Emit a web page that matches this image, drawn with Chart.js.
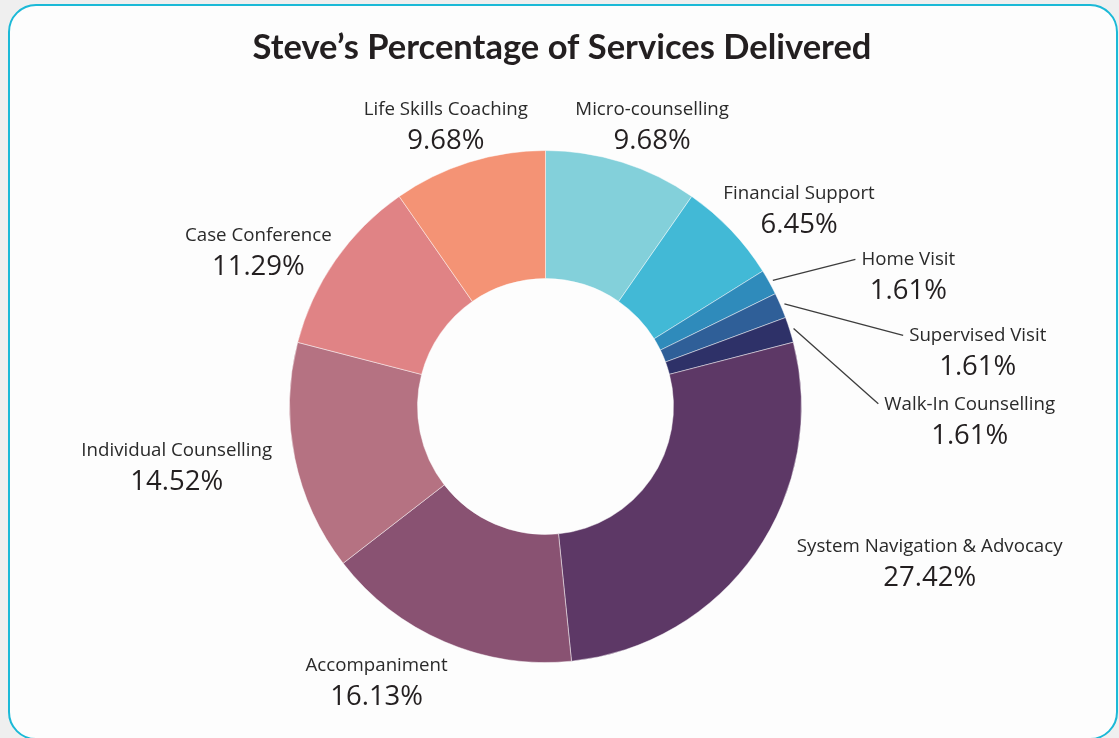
<!DOCTYPE html>
<html>
<head>
<meta charset="utf-8">
<script src="https://cdn.jsdelivr.net/npm/chart.js@4.4.1/dist/chart.umd.min.js"></script>
<style>
  html, body { margin: 0; padding: 0; width: 1119px; height: 738px; overflow: hidden; background: #efefef; }
  #frame { position: absolute; left: 8px; top: 4px; width: 1110px; height: 736px; box-sizing: border-box;
           border: 2.5px solid #1bb9d7; border-radius: 28px; background: #fdfdfd; }
  #wrap { position: absolute; left: 0; top: 0; width: 1119px; height: 738px; }
</style>
</head>
<body>
<div id="frame"></div>
<div id="wrap"><canvas id="c" width="1119" height="738"></canvas></div>
<script>
// ---- data ----
const titleText = "Steve\u2019s Percentage of Services Delivered";
const categories = ["Micro-counselling", "Financial Support", "Home Visit", "Supervised Visit",
  "Walk-In Counselling", "System Navigation & Advocacy", "Accompaniment", "Individual Counselling",
  "Case Conference", "Life Skills Coaching"];
const percentages = [9.68, 6.45, 1.61, 1.61, 1.61, 27.42, 16.13, 14.52, 11.29, 9.68];
const sliceColors = ["#83d0da", "#42b9d6", "#2f8bbb", "#2f5f98", "#2e3168", "#5d3866",
  "#895272", "#b57282", "#e08385", "#f49375"];

// ---- label placement (offset of name-line centre from the slice's outer mid-point) ----
const labelOffsets = [[30, -54], [68, -38], [139, -24], [197, 29], [180, 73], [174, -7],
  [-68, 22], [-118, -9], [-77, -26], [-23, -54]];
const leaderLine = [false, false, true, true, true, false, false, false, false, false];

const labelPlugin = {
  id: 'outerLabels',
  afterDatasetsDraw(chart) {
    const ctx = chart.ctx;
    const meta = chart.getDatasetMeta(0);
    ctx.save();
    // title
    ctx.fillStyle = '#231f20';
    ctx.font = 'bold 34.5px Lato, "Open Sans", sans-serif';
    ctx.textAlign = 'center';
    ctx.textBaseline = 'middle';
    ctx.fillText(titleText, 562, 48);

    meta.data.forEach((arc, i) => {
      const p = arc.getProps(['x', 'y', 'startAngle', 'endAngle', 'outerRadius'], true);
      const mid = (p.startAngle + p.endAngle) / 2;
      const ox = p.x + Math.cos(mid) * p.outerRadius;
      const oy = p.y + Math.sin(mid) * p.outerRadius;
      const lx = ox + labelOffsets[i][0];
      const ly = oy + labelOffsets[i][1];
      const name = categories[i];
      const val = percentages[i].toFixed(2) + '%';
      ctx.textAlign = 'center';
      ctx.textBaseline = 'middle';
      ctx.font = '18.7px "Open Sans", sans-serif';
      ctx.fillStyle = '#2a2a2a';
      ctx.fillText(name, lx, ly + 1.5);
      const nameW = ctx.measureText(name).width;
      ctx.font = '27.5px "Open Sans", sans-serif';
      ctx.fillStyle = '#231f20';
      ctx.fillText(val, lx, ly + 33);
      if (leaderLine[i]) {
        const sx = p.x + Math.cos(mid) * (p.outerRadius + 4);
        const sy = p.y + Math.sin(mid) * (p.outerRadius + 4);
        ctx.beginPath();
        ctx.moveTo(sx, sy);
        ctx.lineTo(lx - nameW / 2 - 6, ly + 1);
        ctx.strokeStyle = '#3d3d3d';
        ctx.lineWidth = 1.3;
        ctx.stroke();
      }
    });
    ctx.restore();
  }
};

new Chart(document.getElementById('c'), {
  type: 'doughnut',
  data: {
    labels: categories,
    datasets: [{
      data: percentages,
      backgroundColor: sliceColors,
      borderColor: 'rgba(255,255,255,0.45)',
      borderWidth: 1,
      hoverOffset: 0
    }]
  },
  options: {
    responsive: false,
    animation: false,
    devicePixelRatio: 1,
    cutout: '50%',
    layout: { padding: { left: 289, right: 317, top: 150, bottom: 75 } },
    plugins: {
      legend: { display: false },
      tooltip: { enabled: false },
      title: { display: false }
    }
  },
  plugins: [labelPlugin]
});
</script>
</body>
</html>
